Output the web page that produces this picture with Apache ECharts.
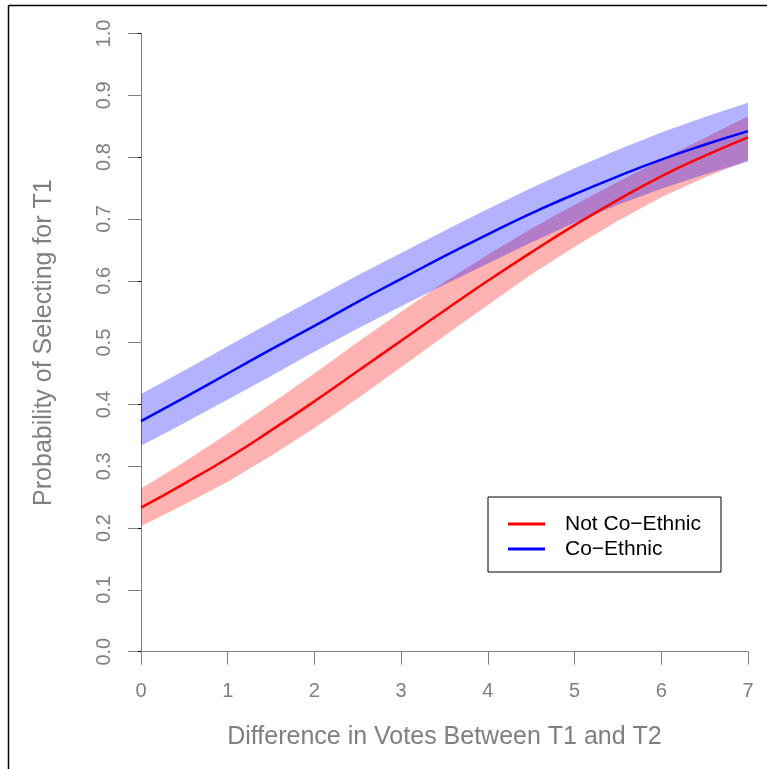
<!DOCTYPE html>
<html>
<head>
<meta charset="utf-8">
<script src="https://cdn.jsdelivr.net/npm/echarts@6/dist/echarts.min.js"></script>
<style>
  html, body { margin: 0; padding: 0; background: #fff; }
  #main { width: 767px; height: 769px; }
</style>
</head>
<body>
<div id="main"></div>
<script>
// difference in votes between T1 and T2
const voteDiff = [0, 0.5, 1, 1.5, 2, 2.5, 3, 3.5, 4, 4.5, 5, 5.5, 6, 6.5, 7];

// Not Co-Ethnic: fitted probability and interval
const notCoFit   = [0.233, 0.272, 0.313, 0.358, 0.405, 0.454, 0.503, 0.552, 0.600, 0.646, 0.690, 0.731, 0.769, 0.802, 0.832];
const notCoLower = [0.203, 0.238, 0.275, 0.317, 0.362, 0.410, 0.460, 0.511, 0.561, 0.610, 0.655, 0.697, 0.735, 0.767, 0.795];
const notCoUpper = [0.264, 0.307, 0.353, 0.401, 0.450, 0.501, 0.550, 0.598, 0.642, 0.684, 0.723, 0.760, 0.796, 0.831, 0.866];

// Co-Ethnic: fitted probability and interval
const coFit   = [0.373, 0.411, 0.450, 0.489, 0.527, 0.566, 0.603, 0.640, 0.675, 0.709, 0.740, 0.769, 0.796, 0.820, 0.842];
const coLower = [0.333, 0.370, 0.408, 0.446, 0.485, 0.523, 0.559, 0.594, 0.628, 0.662, 0.694, 0.723, 0.749, 0.772, 0.793];
const coUpper = [0.417, 0.455, 0.494, 0.533, 0.571, 0.609, 0.645, 0.681, 0.716, 0.750, 0.782, 0.812, 0.840, 0.865, 0.888];

const xTicks = [0, 1, 2, 3, 4, 5, 6, 7];
const yTicks = [0.0, 0.1, 0.2, 0.3, 0.4, 0.5, 0.6, 0.7, 0.8, 0.9, 1.0];

const legendNames = ['Not Co\u2212Ethnic', 'Co\u2212Ethnic'];

const pairs = (ys) => voteDiff.map((x, i) => [x, ys[i]]);
const triples = (lo, hi) => voteDiff.map((x, i) => [x, lo[i], hi[i]]);

const gray = '#7f7f7f';
const font = 'Liberation Sans, Arial, Helvetica, sans-serif';

// confidence band drawn as one polygon through the axis scales
const band = (name, lo, hi, color) => ({
  name: name, type: 'custom', silent: true,
  data: triples(lo, hi),
  encode: { x: 0, y: [1, 2] },
  renderItem: (params, api) => {
    if (params.dataIndex !== 0) return;
    const top = voteDiff.map((x, i) => api.coord([x, hi[i]]));
    const bottom = voteDiff.map((x, i) => api.coord([x, lo[i]])).reverse();
    return {
      type: 'polygon',
      shape: { points: top.concat(bottom) },
      style: { fill: color, stroke: null }
    };
  }
});

let main = document.getElementById('main');
let myChart = echarts.init(main, null, { renderer: 'canvas' });

let option = {
  animation: false,
  backgroundColor: '#fff',
  textStyle: { fontFamily: font },
  grid: { left: 141, right: 19, top: 33.5, bottom: 117.3, containLabel: false },
  legend: {
    data: legendNames,
    orient: 'vertical',
    left: 488, top: 497,
    padding: [16, 20, 12, 20],
    itemGap: 3,
    itemWidth: 37, itemHeight: 3,
    icon: 'rect',
    borderColor: '#000', borderWidth: 1, borderRadius: 0,
    backgroundColor: '#fff',
    textStyle: { color: '#000', fontSize: 21, fontFamily: font, padding: [0, 0, 0, 15], lineHeight: 22 }
  },
  xAxis: {
    type: 'value', min: 0, max: 7, interval: 1,
    name: 'Difference in Votes Between T1 and T2',
    nameLocation: 'middle', nameGap: 73,
    nameTextStyle: { color: gray, fontSize: 25, fontFamily: font },
    axisLine: { show: true, onZero: false, lineStyle: { color: gray, width: 1 } },
    axisTick: { show: true, length: 13, lineStyle: { color: gray } },
    axisLabel: { color: gray, fontSize: 20, margin: 30, fontFamily: font,
      formatter: (v) => xTicks.includes(v) ? String(v) : '' },
    splitLine: { show: false }
  },
  yAxis: [{
    type: 'value', min: 0, max: 1, interval: 0.1,
    name: 'Probability of Selecting for T1',
    nameLocation: 'middle', nameGap: 84,
    nameTextStyle: { color: gray, fontSize: 25, fontFamily: font },
    axisLine: { show: true, onZero: false, lineStyle: { color: gray, width: 1 } },
    axisTick: { show: true, length: 13, lineStyle: { color: gray } },
    axisLabel: { color: gray, fontSize: 20, margin: 27, rotate: 90, fontFamily: font,
      formatter: (v) => yTicks.find(t => Math.abs(t - v) < 1e-9).toFixed(1) },
    splitLine: { show: false }
  }, {
    // outer frame ticks on the left edge
    type: 'value', min: 0, max: 1, interval: 0.2, position: 'left', offset: 132.5,
    axisLine: { show: false },
    axisTick: { show: true, length: 3, lineStyle: { color: '#000', width: 1 } },
    axisLabel: { show: false },
    splitLine: { show: false }
  }],
  graphic: [
    { type: 'line', shape: { x1: 8.5, y1: 5.5, x2: 767, y2: 5.5 }, style: { stroke: '#000', lineWidth: 1.5 }, silent: true },
    { type: 'line', shape: { x1: 8.5, y1: 5.5, x2: 8.5, y2: 769 }, style: { stroke: '#000', lineWidth: 1.5 }, silent: true }
  ],
  series: [
    band('ncBand', notCoLower, notCoUpper, 'rgba(255,0,0,0.3)'),
    { name: legendNames[0], type: 'line', data: pairs(notCoFit), smooth: true,
      showSymbol: false, symbol: 'none', color: '#ff0000',
      lineStyle: { color: '#ff0000', width: 2.5 } },
    band('coBand', coLower, coUpper, 'rgba(0,0,255,0.3)'),
    { name: legendNames[1], type: 'line', data: pairs(coFit), smooth: true,
      showSymbol: false, symbol: 'none', color: '#0000ff',
      lineStyle: { color: '#0000ff', width: 2.5 } }
  ]
};

myChart.setOption(option);
window.onresize = function () {
  myChart.resize();
};
</script>
</body>
</html>
